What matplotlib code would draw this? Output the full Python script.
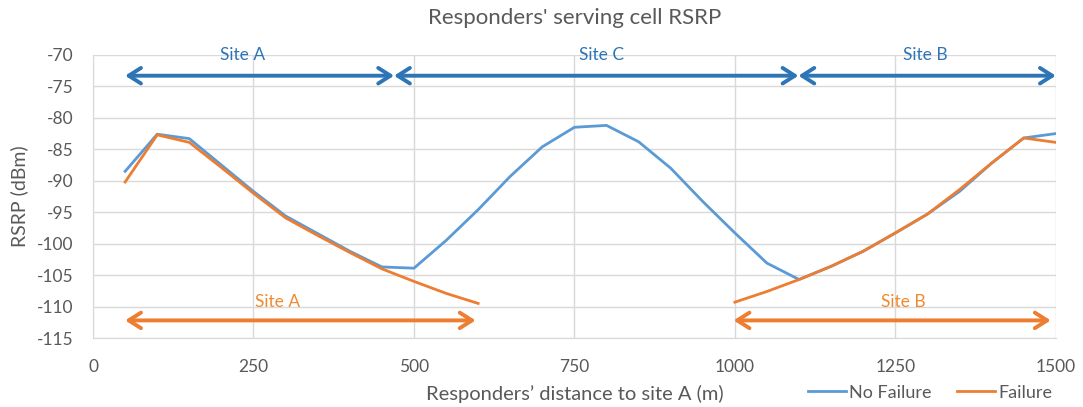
import matplotlib.pyplot as plt

plt.rcParams['font.family'] = ['Lato', 'DejaVu Sans']
plt.rcParams['axes.unicode_minus'] = False

distance = [50, 100, 150, 200, 250, 300, 350, 400, 450, 500, 550, 600, 650, 700, 750,
            800, 850, 900, 950, 1000, 1050, 1100, 1150, 1200, 1250, 1300, 1350, 1400,
            1450, 1500]
no_failure = [-88.5, -82.6, -83.3, -87.5, -91.7, -95.6, -98.4, -101.2, -103.7, -103.9,
              -99.5, -94.6, -89.3, -84.6, -81.5, -81.2, -83.8, -88.0, -93.3, -98.3,
              -103.1, -105.7, -103.6, -101.2, -98.3, -95.3, -91.7, -87.2, -83.2, -82.5]

fail_dist_a = [50, 100, 150, 200, 250, 300, 350, 400, 450, 500, 550, 600]
failure_a = [-90.2, -82.7, -83.9, -87.9, -92.0, -95.9, -98.7, -101.4, -104.0, -106.0,
             -107.9, -109.5]
fail_dist_b = [1000, 1050, 1100, 1150, 1200, 1250, 1300, 1350, 1400, 1450, 1500]
failure_b = [-109.3, -107.6, -105.7, -103.6, -101.2, -98.3, -95.3, -91.4, -87.2, -83.2,
             -83.9]

# serving-site ranges (start, end, label x, label)
no_fail_sites = [(50, 469, 233, 'Site A'), (469, 1099, 792, 'Site C'), (1099, 1500, 1297, 'Site B')]
fail_sites = [(50, 596, 287, 'Site A'), (998, 1492, 1262, 'Site B')]

blue = '#5B9BD5'
orange = '#ED7D31'
dark_blue = '#2E75B6'
gray = '#595959'

fig = plt.figure(figsize=(10.83, 4.07), dpi=100)
ax = fig.add_axes([0.0859, 0.1695, 0.889, 0.6955])

ax.plot(distance, no_failure, color=blue, lw=2, label='No Failure', zorder=3)
ax.plot(fail_dist_a, failure_a, color=orange, lw=2, label='Failure', zorder=4)
ax.plot(fail_dist_b, failure_b, color=orange, lw=2, zorder=4)

arrow = '<->, head_length=0.55, head_width=0.35'
for x0, x1, xl, name in no_fail_sites:
    ax.annotate('', xy=(x0, -73.3), xytext=(x1, -73.3),
                arrowprops=dict(arrowstyle=arrow, color=dark_blue, lw=2.8,
                                mutation_scale=16, shrinkA=0, shrinkB=0))
    ax.text(xl, -70.0, name, color=dark_blue, fontsize=12.5, ha='center', va='center')

for x0, x1, xl, name in fail_sites:
    ax.annotate('', xy=(x0, -112.2), xytext=(x1, -112.2),
                arrowprops=dict(arrowstyle=arrow, color=orange, lw=2.8,
                                mutation_scale=16, shrinkA=0, shrinkB=0))
    ax.text(xl, -109.2, name, color='#F08A30', fontsize=12.5, ha='center', va='center')

ax.set_xlim(0, 1500)
ax.set_ylim(-115, -70)
ax.set_xticks(range(0, 1501, 250))
ax.set_yticks(range(-115, -69, 5))
ax.grid(True, color='#D9D9D9', lw=1)
ax.set_axisbelow(True)
ax.tick_params(length=0, labelsize=12.5, labelcolor=gray)
ax.tick_params(axis='x', pad=15)
ax.tick_params(axis='y', pad=14)
for side in ['top', 'right']:
    ax.spines[side].set_visible(False)
for side in ['left', 'bottom']:
    ax.spines[side].set_color('#D9D9D9')

ax.set_title("Responders' serving cell RSRP", fontsize=16, color=gray, pad=22)
ax.set_xlabel('Responders\u2019 distance to site A (m)', fontsize=14.5, color=gray, labelpad=7)
ax.set_ylabel('RSRP (dBm)', fontsize=14, color=gray, labelpad=6)

leg = ax.legend(loc='center right', bbox_to_anchor=(0.972, 0.035), bbox_transform=fig.transFigure,
                ncol=2, frameon=False, fontsize=13, handlelength=2.1, columnspacing=1.4,
                handletextpad=0.2, borderaxespad=0, borderpad=0)
for t in leg.get_texts():
    t.set_color(gray)

fig.savefig('out.png', dpi=100)
